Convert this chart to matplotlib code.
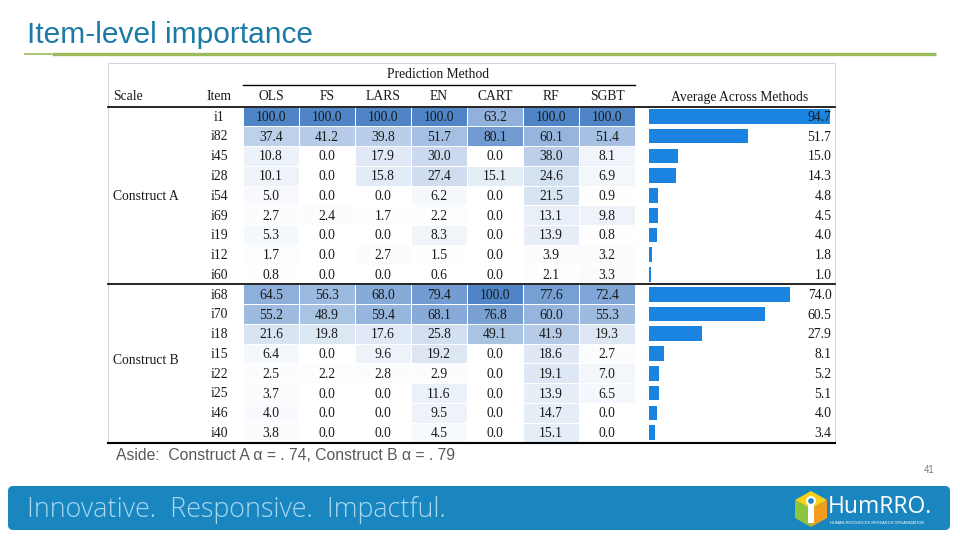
import numpy as np
import matplotlib
matplotlib.use("Agg")
import matplotlib.pyplot as plt
from matplotlib.colors import LinearSegmentedColormap
from matplotlib.patches import FancyBboxPatch, Rectangle, Polygon, Circle

# ---------------- data ----------------
methods = ["OLS", "FS", "LARS", "EN", "CART", "RF", "SGBT"]
items_a = ["i1", "i82", "i45", "i28", "i54", "i69", "i19", "i12", "i60"]
items_b = ["i68", "i70", "i18", "i15", "i22", "i25", "i46", "i40"]

imp_a = [
    [100.0, 100.0, 100.0, 100.0, 63.2, 100.0, 100.0],
    [37.4, 41.2, 39.8, 51.7, 80.1, 60.1, 51.4],
    [10.8, 0.0, 17.9, 30.0, 0.0, 38.0, 8.1],
    [10.1, 0.0, 15.8, 27.4, 15.1, 24.6, 6.9],
    [5.0, 0.0, 0.0, 6.2, 0.0, 21.5, 0.9],
    [2.7, 2.4, 1.7, 2.2, 0.0, 13.1, 9.8],
    [5.3, 0.0, 0.0, 8.3, 0.0, 13.9, 0.8],
    [1.7, 0.0, 2.7, 1.5, 0.0, 3.9, 3.2],
    [0.8, 0.0, 0.0, 0.6, 0.0, 2.1, 3.3],
]
imp_b = [
    [64.5, 56.3, 68.0, 79.4, 100.0, 77.6, 72.4],
    [55.2, 48.9, 59.4, 68.1, 76.8, 60.0, 55.3],
    [21.6, 19.8, 17.6, 25.8, 49.1, 41.9, 19.3],
    [6.4, 0.0, 9.6, 19.2, 0.0, 18.6, 2.7],
    [2.5, 2.2, 2.8, 2.9, 0.0, 19.1, 7.0],
    [3.7, 0.0, 0.0, 11.6, 0.0, 13.9, 6.5],
    [4.0, 0.0, 0.0, 9.5, 0.0, 14.7, 0.0],
    [3.8, 0.0, 0.0, 4.5, 0.0, 15.1, 0.0],
]
avg_a = [94.7, 51.7, 15.0, 14.3, 4.8, 4.5, 4.0, 1.8, 1.0]
avg_b = [74.0, 60.5, 27.9, 8.1, 5.2, 5.1, 4.0, 3.4]

items = items_a + items_b
imp = np.array(imp_a + imp_b)
avg = avg_a + avg_b
n_rows = len(items)

# ---------------- figure ----------------
W, H = 960, 540
fig = plt.figure(figsize=(W / 100, H / 100), dpi=100)
fig.patch.set_facecolor("white")


def px_axes(x0, y0, x1, y1, **kw):
    return fig.add_axes([x0 / W, 1 - y1 / H, (x1 - x0) / W, (y1 - y0) / H], **kw)


serif = "Liberation Serif"
txt_col = "#1a1a1a"
fs = 9.8

# heat map cells
hx = px_axes(243, 106.5, 635, 442.5, zorder=1)
cmap = LinearSegmentedColormap.from_list("wb", ["#ffffff", "#4f84c6"])
hx.pcolormesh(np.arange(len(methods) + 1), np.arange(n_rows + 1), imp,
              cmap=cmap, vmin=0, vmax=100, edgecolors="white", linewidth=0.4)
hx.set_xlim(0, len(methods))
hx.set_ylim(n_rows, 0)
hx.axis("off")
for i in range(n_rows):
    for j in range(len(methods)):
        hx.text(j + 0.5, i + 0.55, f"{imp[i, j]:.1f}", ha="center", va="center",
                fontsize=fs, family=serif, color=txt_col)

# average bars
bx = px_axes(649, 106.5, 840, 442.5, zorder=1)
bx.barh(np.arange(n_rows) + 0.5, avg, height=0.74, color="#1a84e0")
bx.set_xlim(0, 100)
bx.set_ylim(n_rows, 0)
bx.axis("off")
for i, v in enumerate(avg):
    bx.text(95.5, i + 0.55, f"{v:.1f}", ha="right", va="center",
            fontsize=fs, family=serif, color=txt_col)

# overlay: slide decorations, table text and rules
ax = fig.add_axes([0, 0, 1, 1], zorder=3)
ax.set_xlim(0, W)
ax.set_ylim(H, 0)
ax.axis("off")
ax.patch.set_alpha(0)

# title + rule
ax.text(27, 35, "Item-level importance", fontsize=21.5, color="#1c7aa6",
        family="Liberation Sans", va="center", ha="left")
ax.plot([24, 52], [53.5, 53.5], color="#9bbb59", lw=1.2, solid_capstyle="butt")
ax.plot([52, 936], [53.5, 53.5], color="#9bbb59", lw=2.4, solid_capstyle="butt")

# table frame
ax.add_patch(Rectangle((108, 63), 727, 380, fill=False, ec="#d6d6d6", lw=0.8))

top, pitch = 106.5, (442.5 - 106.5) / n_rows
row_y = [top + pitch * (i + 0.5) for i in range(n_rows)]

ax.text(438, 75, "Prediction Method", ha="center", va="center",
        fontsize=fs, family=serif, color=txt_col)
ax.plot([243, 635], [85, 85], color="black", lw=1.0)
ax.text(113, 97, "Scale", ha="left", va="center", fontsize=fs, family=serif, color=txt_col)
ax.text(219, 97, "Item", ha="center", va="center", fontsize=fs, family=serif, color=txt_col)
for j, m in enumerate(methods):
    ax.text(271 + 56 * j, 97, m, ha="center", va="center",
            fontsize=fs, family=serif, color=txt_col)
ax.text(740, 97, "Average Across Methods", ha="center", va="center",
        fontsize=fs, family=serif, color=txt_col)

for i, it in enumerate(items):
    ax.text(219, row_y[i] + 0.8, it, ha="center", va="center",
            fontsize=fs, family=serif, color=txt_col)
ax.text(113, row_y[4] + 0.8, "Construct A", ha="left", va="center",
        fontsize=fs, family=serif, color=txt_col)
ax.text(113, (row_y[12] + row_y[13]) / 2 - 3, "Construct B", ha="left", va="center",
        fontsize=fs, family=serif, color=txt_col)

ax.plot([108, 835], [107, 107], color="black", lw=1.2)
ax.plot([108, 835], [top + pitch * len(items_a)] * 2, color="black", lw=1.2)
ax.plot([108, 835], [442.5, 442.5], color="black", lw=1.5)

ax.text(116, 456, "Aside:  Construct A \u03b1 = . 74, Construct B \u03b1 = . 79",
        fontsize=11.3, color="#595959", family="Liberation Sans", va="center")
ax.text(929, 470, "41", fontsize=7, color="#7f7f7f", family="Liberation Sans",
        va="center", ha="center")

# footer banner
ax.add_patch(FancyBboxPatch((8, 486), 942, 44, boxstyle="round,pad=0,rounding_size=5",
                            fc="#1a86c0", ec="none"))
ax.text(27, 510, "Innovative.  Responsive.  Impactful.", fontsize=19.4,
        color="#a8d8f0", family="Open Sans", fontweight="light", va="center")

# logo
cx, cy = 811, 509
hexv = {"t": (cx, cy - 18), "ur": (cx + 16, cy - 9), "lr": (cx + 16, cy + 9),
        "b": (cx, cy + 18), "ll": (cx - 16, cy + 9), "ul": (cx - 16, cy - 9), "c": (cx, cy)}
ax.add_patch(Polygon([hexv["c"], hexv["ul"], hexv["t"], hexv["ur"]], fc="#f7d117", ec="none"))
ax.add_patch(Polygon([hexv["c"], hexv["ul"], hexv["ll"], hexv["b"]], fc="#8cc63f", ec="none"))
ax.add_patch(Polygon([hexv["c"], hexv["ur"], hexv["lr"], hexv["b"]], fc="#f39c1d", ec="none"))
ax.add_patch(Rectangle((cx - 2.8, cy - 4), 5.6, 18, fc="white", ec="none"))
ax.add_patch(Circle((cx, cy - 8), 5, fc="white", ec="none"))
ax.add_patch(Circle((cx, cy - 8), 2.8, fc="#1a86c0", ec="none"))
ax.text(828, 507, "HumRRO.", fontsize=16.5, color="white", family="Open Sans", va="center")
ax.text(830, 523, "HUMAN RESOURCES RESEARCH ORGANIZATION", fontsize=2.8,
        color="white", family="Liberation Sans", va="center")

fig.savefig("out.png", dpi=100)
